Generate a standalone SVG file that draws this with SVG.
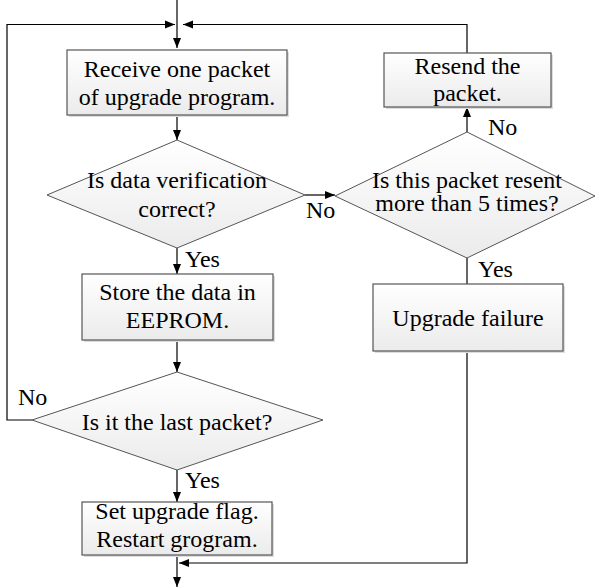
<svg xmlns="http://www.w3.org/2000/svg" width="596" height="588" viewBox="0 0 596 588">
<defs>
<linearGradient id="g" x1="0" y1="0" x2="0" y2="1">
<stop offset="0" stop-color="#ffffff"/>
<stop offset="1" stop-color="#ebebeb"/>
</linearGradient>
<marker id="a" viewBox="0 0 10 10" refX="10" refY="5" markerWidth="10" markerHeight="10" markerUnits="userSpaceOnUse" orient="auto">
<path d="M0,1 L10,5 L0,9 Z" fill="#000"/>
</marker>
</defs>
<style>
.box{fill:url(#g);stroke:#555;stroke-width:1.2}
.sh{fill:#dcdcdc;stroke:none}
.dia{fill:url(#g);stroke:#555;stroke-width:1}
text{font-family:"Liberation Serif","Times New Roman",serif;font-size:24px;fill:#000;text-anchor:middle}
.lbl{text-anchor:start}
.c{fill:none;stroke:#000;stroke-width:1.2}
</style>
<g id="connectors">
<path class="c" d="M177,0 V48" marker-end="url(#a)"/>
<path class="c" d="M32,420 H7 V24.5 H175" marker-end="url(#a)"/>
<path class="c" d="M467,53 V24.5 H183" marker-end="url(#a)"/>
<path class="c" d="M177,115 V140" marker-end="url(#a)"/>
<path class="c" d="M305,195 H335" marker-end="url(#a)"/>
<path class="c" d="M177,248 V274" marker-end="url(#a)"/>
<path class="c" d="M467,132 V107" marker-end="url(#a)"/>
<path class="c" d="M467,258 V284"/>
<path class="c" d="M177,340 V372" marker-end="url(#a)"/>
<path class="c" d="M177,470 V502" marker-end="url(#a)"/>
<path class="c" d="M177,555 V587" marker-end="url(#a)"/>
<path class="c" d="M467,351 V563 H179" marker-end="url(#a)"/>
<text class="lbl" x="306" y="218">No</text>
<text class="lbl" x="185" y="267">Yes</text>
<text class="lbl" x="488" y="135">No</text>
<text class="lbl" x="478" y="277">Yes</text>
<text class="lbl" x="18" y="405">No</text>
<text class="lbl" x="185" y="488">Yes</text>
</g>
<g id="receive">
<rect class="sh" x="69" y="52" width="220" height="65"/>
<rect class="box" x="67" y="50" width="220" height="65"/>
<text x="177" y="77">Receive one packet</text>
<text x="177" y="105">of upgrade program.</text>
</g>
<g id="verify">
<polygon class="dia" points="177,140 305,195 177,248 47,195"/>
<text x="177" y="188">Is data verification</text>
<text x="177" y="217">correct?</text>
</g>
<g id="store">
<rect class="sh" x="84" y="276" width="191" height="66"/>
<rect class="box" x="82" y="274" width="191" height="66"/>
<text x="177.5" y="300">Store the data in</text>
<text x="177.5" y="328">EEPROM.</text>
</g>
<g id="last">
<polygon class="dia" points="177,372 323,420 177,470 32,420"/>
<text x="177" y="430">Is it the last packet?</text>
</g>
<g id="setflag">
<rect class="sh" x="84" y="504" width="190" height="53"/>
<rect class="box" x="82" y="502" width="190" height="53"/>
<text x="177" y="519">Set upgrade flag.</text>
<text x="177" y="547">Restart grogram.</text>
</g>
<g id="resent">
<polygon class="dia" points="467,132 595,196 467,258 335,196"/>
<text x="467" y="188">Is this packet resent</text>
<text x="467" y="211">more than 5 times?</text>
</g>
<g id="resend">
<rect class="sh" x="386" y="55" width="167" height="54"/>
<rect class="box" x="384" y="53" width="167" height="54"/>
<text x="467.5" y="74">Resend the</text>
<text x="467.5" y="101">packet.</text>
</g>
<g id="failure">
<rect class="sh" x="375" y="286" width="190" height="67"/>
<rect class="box" x="373" y="284" width="190" height="67"/>
<text x="468" y="326">Upgrade failure</text>
</g>
</svg>
